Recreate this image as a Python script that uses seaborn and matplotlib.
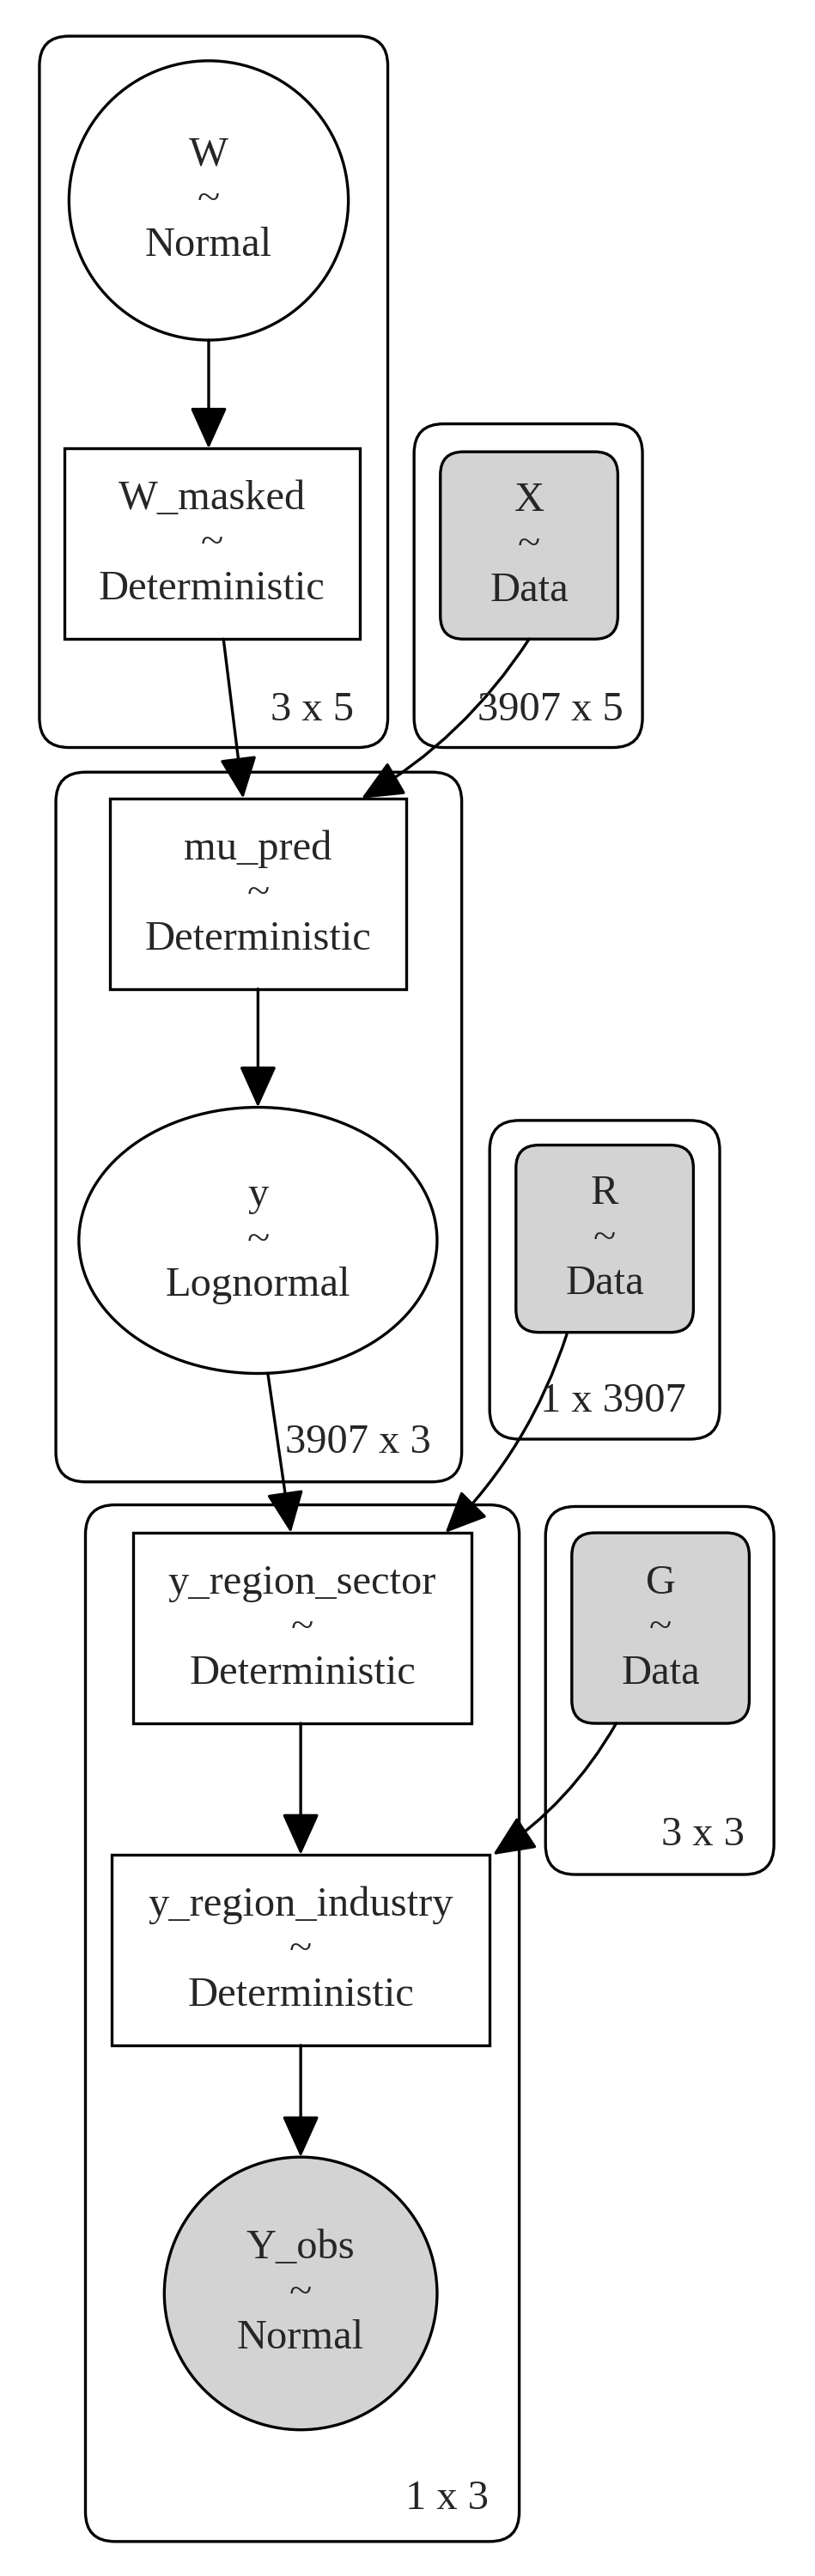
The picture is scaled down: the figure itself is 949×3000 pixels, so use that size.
import matplotlib
matplotlib.use("Agg")
import matplotlib.pyplot as plt
import seaborn as sns
from matplotlib.patches import FancyBboxPatch, Rectangle, Circle, Ellipse, FancyArrowPatch

sns.set_theme(style="white")
plt.rcParams['font.family'] = ['Liberation Serif', 'DejaVu Serif']

# clusters: (x0, y0, x1, y1, label)
cluster_boxes = [(24, 22, 236, 455), (252, 258, 391, 455), (34, 470, 281, 902),
                 (298, 682, 438, 876), (52, 916, 316, 1547), (332, 917, 471, 1141)]
cluster_labels = ["3 x 5", "3907 x 5", "3907 x 3", "1 x 3907", "1 x 3", "3 x 3"]
cluster_label_pos = [(190, 432), (335, 432), (218, 878), (373, 853), (272, 1521), (428, 1117)]

node_names = ["W", "W_masked", "X", "mu_pred", "y", "R", "y_region_sector", "G", "y_region_industry", "Y_obs"]
node_types = ["Normal", "Deterministic", "Data", "Deterministic", "Lognormal", "Data",
              "Deterministic", "Data", "Deterministic", "Normal"]
node_shapes = ["circle", "box", "rbox", "box", "ellipse", "rbox", "box", "rbox", "box", "circle"]
node_geom = [(127, 122, 85, 85), (129, 331, 90, 58), (322, 332, 54, 57), (157, 544, 90, 58),
             (157, 755, 109, 81), (368, 754, 54, 57), (184, 991, 103, 58), (402, 991, 54, 58),
             (183, 1187, 115, 58), (183, 1396, 83, 83)]
node_fill = ["white", "white", "lightgray", "white", "white", "lightgray", "white", "lightgray", "white", "lightgray"]

edges = [((127, 207), (127, 273), 0), ((136, 389), (148, 486), 0), ((322, 389), (220, 486), -0.12),
         ((157, 602), (157, 674), 0), ((163, 836), (177, 933), 0), ((345, 812), (271, 933), -0.12),
         ((183, 1049), (183, 1129), 0), ((375, 1049), (300, 1129), -0.12), ((183, 1245), (183, 1313), 0)]

W, H = 496, 1568
fig = plt.figure(figsize=(9.49, 30), dpi=100)
ax = fig.add_axes([0, 0, 1, 1])
ax.set_xlim(0, W); ax.set_ylim(H, 0); ax.axis("off")
lw = 2.4
fs = 38

for (x0, y0, x1, y1), lab, (lx, ly) in zip(cluster_boxes, cluster_labels, cluster_label_pos):
    ax.add_patch(FancyBboxPatch((x0 + 18, y0 + 18), x1 - x0 - 36, y1 - y0 - 36,
                                boxstyle="round,pad=18", fc="none", ec="black", lw=lw))
    ax.text(lx, ly, lab, ha="center", va="center", fontsize=fs * 0.92)

for name, typ, shp, (cx, cy, rx, ry), fc in zip(node_names, node_types, node_shapes, node_geom, node_fill):
    if shp == "circle" or shp == "ellipse":
        ax.add_patch(Ellipse((cx, cy), 2 * rx, 2 * ry, fc=fc, ec="black", lw=lw))
    elif shp == "box":
        ax.add_patch(Rectangle((cx - rx, cy - ry), 2 * rx, 2 * ry, fc=fc, ec="black", lw=lw))
    else:
        ax.add_patch(FancyBboxPatch((cx - rx + 14, cy - ry + 14), 2 * rx - 28, 2 * ry - 28,
                                    boxstyle="round,pad=14", fc=fc, ec="black", lw=lw))
    ax.text(cx, cy, f"{name}\n~\n{typ}", ha="center", va="center", fontsize=fs * 0.92,
            linespacing=1.25)

for (p0, p1, rad) in edges:
    ax.add_patch(FancyArrowPatch(p0, p1, arrowstyle="-|>,head_length=1.0,head_width=0.45",
                                 mutation_scale=30, connectionstyle=f"arc3,rad={rad}",
                                 color="black", lw=lw, shrinkA=0, shrinkB=0))

fig.savefig("out.png", dpi=100, facecolor="white")
